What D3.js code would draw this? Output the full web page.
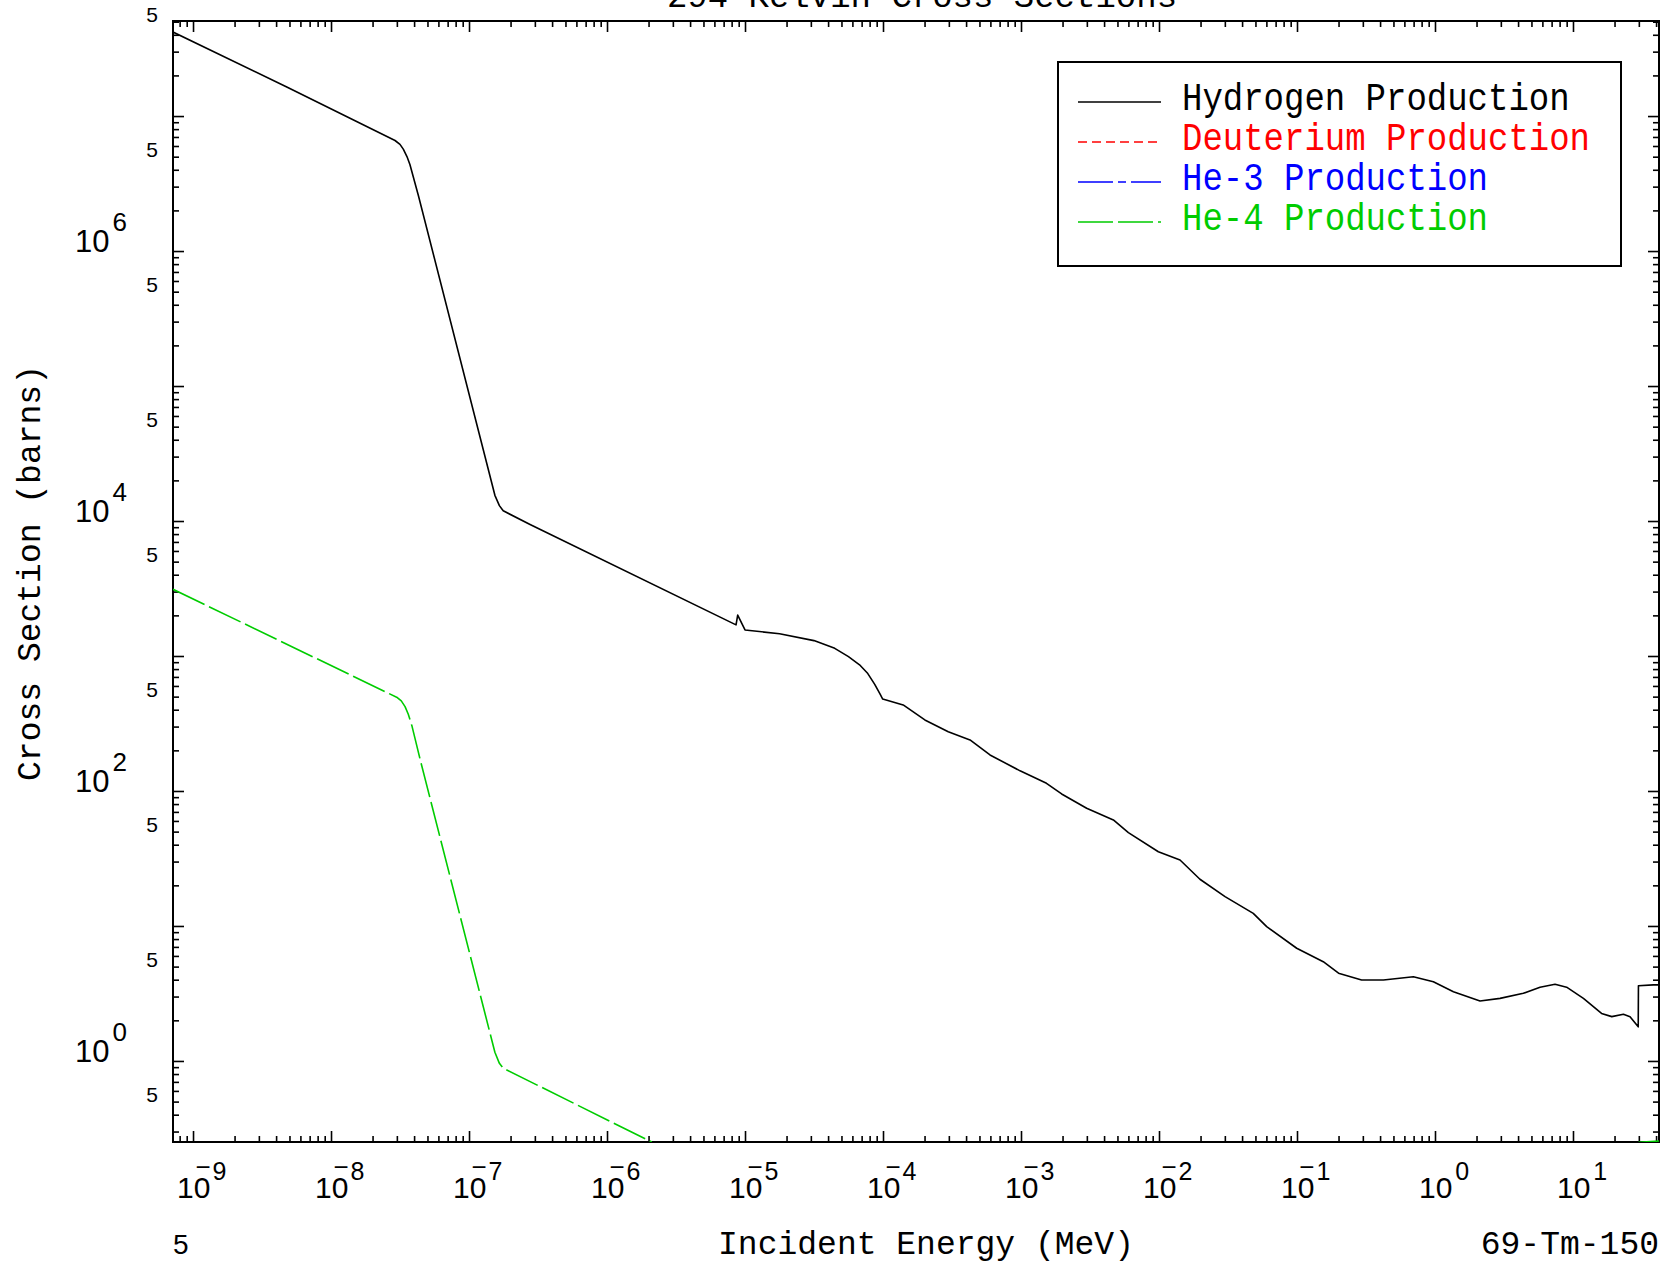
<!DOCTYPE html>
<html>
<head>
<meta charset="utf-8">
<script src="https://cdn.jsdelivr.net/npm/d3@7"></script>
<style>
  body { margin: 0; background: #fff; }
  svg { display: block; }
</style>
</head>
<body>
<svg id="chart" width="1663" height="1265"></svg>
<script>
// Energies in MeV, cross sections in barns
const hydrogenE = [7.16e-10, 4.78e-9, 2.91e-8, 3.16e-8, 3.34e-8, 3.55e-8, 3.73e-8, 4.30e-8, 1.54e-7, 1.66e-7, 1.77e-7, 2.77e-7,
  8.61e-6, 8.85e-6, 1.0e-5, 1.78e-5, 3.16e-5, 4.47e-5, 5.62e-5, 6.76e-5, 7.76e-5, 8.71e-5, 9.55e-5,
  9.95e-5, 1.40e-4, 2.01e-4, 2.97e-4,
  4.27e-4, 5.96e-4, 9.84e-4, 1.53e-3, 1.97e-3, 2.99e-3, 4.67e-3, 6.0e-3, 9.89e-3, 1.42e-2, 1.98e-2,
  3.01e-2, 4.82e-2, 6.03e-2, 9.95e-2, 0.155, 0.2, 0.294, 0.423, 0.697, 0.973, 1.36, 2.12, 2.96, 4.37,
  5.77, 7.41, 8.99, 11.9, 16.1, 19.1, 23.2, 25.9, 29.7, 29.8, 38.2, 42.0];
const hydrogenXS = [4.19e7, 1.64e7, 6.59e6, 6.17e6, 5.69e6, 5.01e6, 4.37e6, 2.57e6, 1.55e4, 1.30e4, 1.19e4, 9.42e3,
  1.70e3, 2.01e3, 1.56e3, 1.46e3, 1.30e3, 1.14e3, 989, 861, 741, 617, 519,
  480, 434, 336, 275,
  239, 185, 141, 114, 95.1, 74.5, 61.0, 49.1, 35.5, 30.8, 22.2,
  16.5, 12.4, 9.89, 6.84, 5.44, 4.47, 3.98, 3.98, 4.21, 3.86, 3.26, 2.78, 2.91, 3.17,
  3.52, 3.70, 3.52, 2.91, 2.25, 2.13, 2.22, 2.13, 1.79, 3.61, 3.66, 3.66];

// null marks a gap (He-4 drops below the plotted range and comes back near threshold)
const he4E = [7.16e-10, 2.99e-8, 3.23e-8, 3.44e-8, 3.63e-8, 3.85e-8, 4.42e-8, 1.54e-7, 1.66e-7, 1.77e-7, 2.11e-6, null, 29.8, 42.0];
const he4XS = [3120, 495, 465, 422, 370, 306, 172, 1.16, 0.96, 0.883, 0.251, null, 0.25, 0.255];

const deuteriumE = [];
const deuteriumXS = [];
const he3E = [];
const he3XS = [];

const seriesNames = ['Hydrogen Production', 'Deuterium Production', 'He-3 Production', 'He-4 Production'];
const xLabelExponents = [-9, -8, -7, -6, -5, -4, -3, -2, -1, 0, 1];
const yLabelExponents = [0, 2, 4, 6];
const yFiveValues = [0.5, 5, 50, 500, 5e3, 5e4, 5e5, 5e6, 5e7];

const titleText = '294 Kelvin Cross Sections';
const xTitle = 'Incident Energy (MeV)';
const yTitle = 'Cross Section (barns)';
const materialText = '69-Tm-150';

// ---- layout
const plotL = 173, plotR = 1659, plotT = 21, plotB = 1142;
const serif = "'Liberation Mono', 'Courier New', monospace";
const sans = "'Liberation Sans', Arial, sans-serif";

const svg = d3.select('#chart');

const x = d3.scaleLog().domain([7.16e-10, 42]).range([plotL, plotR]);
const y = d3.scaleLog().domain([0.251, 5.06e7]).range([plotB, plotT]);

function logTicks(domain) {
    const lo = Math.floor(Math.log10(domain[0])), hi = Math.ceil(Math.log10(domain[1]));
    const major = [], minor = [];
    for (let d = lo; d <= hi; d++) {
        for (let k = 1; k < 10; k++) {
            const v = k * Math.pow(10, d);
            if (v < domain[0] * 0.999 || v > domain[1] * 1.001) continue;
            (k === 1 ? major : minor).push(v);
        }
    }
    return {major, minor};
}
const xt = logTicks(x.domain()), yt = logTicks(y.domain());

function tickAxis(axisFn, scale, values, size, tx, ty) {
    svg.append('g')
        .attr('transform', `translate(${tx},${ty})`)
        .call(axisFn(scale).tickValues(values).tickSize(-size).tickFormat(''))
        .call(g => g.select('.domain').remove())
        .call(g => g.selectAll('line').attr('stroke', '#000').attr('stroke-width', 1.6));
}
tickAxis(d3.axisBottom, x, xt.major, 11, 0, plotB);
tickAxis(d3.axisBottom, x, xt.minor, 6, 0, plotB);
tickAxis(d3.axisTop, x, xt.major, 11, 0, plotT);
tickAxis(d3.axisTop, x, xt.minor, 6, 0, plotT);
tickAxis(d3.axisLeft, y, yt.major, 11, plotL, 0);
tickAxis(d3.axisLeft, y, yt.minor, 6, plotL, 0);
tickAxis(d3.axisRight, y, yt.major, 11, plotR, 0);
tickAxis(d3.axisRight, y, yt.minor, 6, plotR, 0);

// frame
svg.append('rect')
    .attr('x', plotL).attr('y', plotT)
    .attr('width', plotR - plotL).attr('height', plotB - plotT)
    .attr('fill', 'none').attr('stroke', '#000').attr('stroke-width', 2);

// clip
svg.append('clipPath').attr('id', 'plotclip')
    .append('rect').attr('x', plotL).attr('y', plotT)
    .attr('width', plotR - plotL).attr('height', plotB - plotT);

const styles = [
    {color: '#000000', dash: null},
    {color: '#ff0000', dash: '9,5'},
    {color: '#0000ff', dash: '35,5,8,5'},
    {color: '#00cc00', dash: '35,5'}
];

function zipSeries(es, ss) {
    return es.map((e, i) => e == null ? null : {e: e, s: ss[i]});
}
const series = [
    zipSeries(hydrogenE, hydrogenXS),
    zipSeries(deuteriumE, deuteriumXS),
    zipSeries(he3E, he3XS),
    zipSeries(he4E, he4XS)
];

const line = d3.line()
    .defined(d => d != null)
    .x(d => x(d.e))
    .y(d => y(d.s));

const plot = svg.append('g').attr('clip-path', 'url(#plotclip)');
series.forEach((data, i) => {
    if (!data.length) return;
    plot.append('path')
        .datum(data)
        .attr('d', line)
        .attr('fill', 'none')
        .attr('stroke', styles[i].color)
        .attr('stroke-width', 1.6)
        .attr('stroke-linejoin', 'round')
        .attr('stroke-dasharray', styles[i].dash);
});

// x tick labels: 10 with the exponent, the minus sits as a bar over the 0
xLabelExponents.forEach(p => {
    const tx = x(Math.pow(10, p));
    const t = svg.append('text')
        .attr('x', tx - 16).attr('y', 1198)
        .attr('font-family', sans).attr('font-size', 30).attr('fill', '#000');
    t.append('tspan').text('10');
    if (p < 0) {
        t.append('tspan').attr('font-size', 26).attr('dx', -15).attr('dy', -22).text('\u2212');
        t.append('tspan').attr('font-size', 25).attr('dx', 2).attr('dy', 4).text(-p);
    } else {
        t.append('tspan').attr('font-size', 25).attr('dx', 3).attr('dy', -18).text(p);
    }
});
svg.append('text').attr('x', 173).attr('y', 1254)
    .attr('font-family', sans).attr('font-size', 28).text('5');

// y tick labels
yLabelExponents.forEach(p => {
    const ty = y(Math.pow(10, p));
    const t = svg.append('text')
        .attr('x', 75).attr('y', ty + 1)
        .attr('font-family', sans).attr('font-size', 31).attr('fill', '#000');
    t.append('tspan').text('10');
    t.append('tspan').attr('font-size', 26).attr('dx', 3).attr('dy', -21).text(p);
});
yFiveValues.forEach(v => {
    svg.append('text')
        .attr('x', 158).attr('y', y(v))
        .attr('text-anchor', 'end')
        .attr('font-family', sans).attr('font-size', 21)
        .text('5');
});

// titles
svg.append('text').attr('x', 922).attr('y', 7)
    .attr('text-anchor', 'middle').attr('font-family', serif).attr('font-size', 34)
    .text(titleText);
svg.append('text').attr('x', 926).attr('y', 1254)
    .attr('text-anchor', 'middle').attr('font-family', serif).attr('font-size', 33)
    .text(xTitle);
svg.append('text').attr('x', plotR).attr('y', 1254)
    .attr('text-anchor', 'end').attr('font-family', serif).attr('font-size', 33)
    .text(materialText);
svg.append('text')
    .attr('transform', 'translate(40,573) rotate(-90)')
    .attr('text-anchor', 'middle').attr('font-family', serif).attr('font-size', 33)
    .text(yTitle);

// legend
const lg = svg.append('g');
lg.append('rect')
    .attr('x', 1058).attr('y', 62).attr('width', 1621 - 1058).attr('height', 266 - 62)
    .attr('fill', '#fff').attr('stroke', '#000').attr('stroke-width', 2);
seriesNames.forEach((name, i) => {
    const ly = 102 + i * 40;
    lg.append('line')
        .attr('x1', 1078).attr('x2', 1161).attr('y1', ly).attr('y2', ly)
        .attr('stroke', styles[i].color).attr('stroke-width', 1.6)
        .attr('stroke-dasharray', styles[i].dash);
    lg.append('text')
        .attr('transform', `translate(1182,${ly + 8}) scale(1,1.16)`)
        .attr('font-family', serif).attr('font-size', 34)
        .attr('fill', styles[i].color)
        .text(name);
});
</script>
</body>
</html>
